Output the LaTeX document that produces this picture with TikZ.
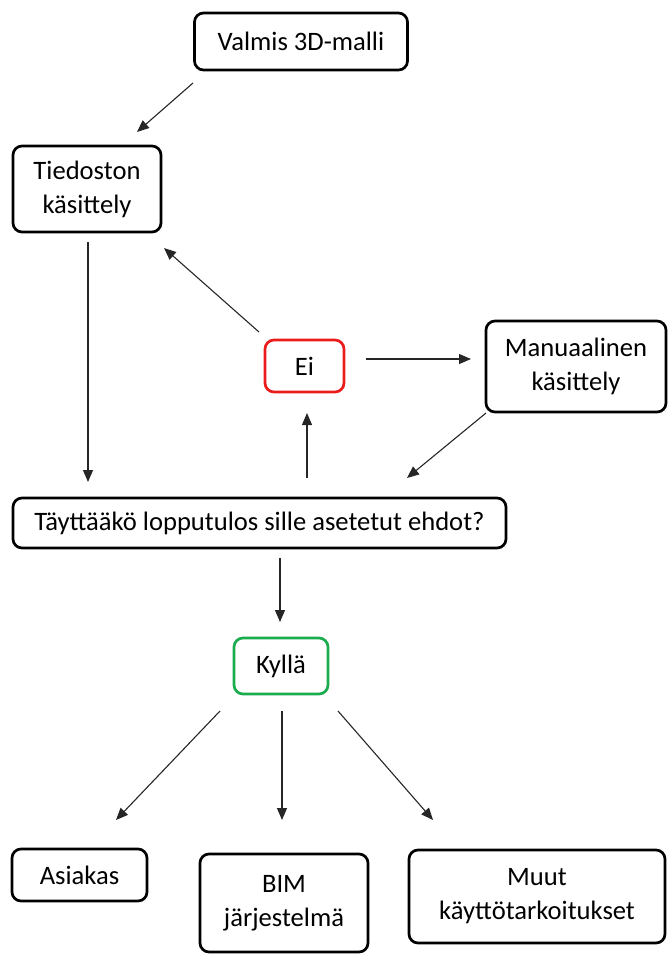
\documentclass[tikz,border=0pt]{standalone}
\usepackage{fontspec}
\setmainfont{Carlito}
\usetikzlibrary{arrows.meta}
\definecolor{eired}{RGB}{235,28,28}
\definecolor{kgreen}{RGB}{28,172,80}
\begin{document}
\begin{tikzpicture}[x=1pt,y=-1pt,
  box/.style={draw=black, line width=2.7pt, rounded corners=9pt, inner sep=0pt, outer sep=0pt, align=center, font=\fontsize{26.6}{34}\selectfont},
  arr/.style={draw=black!85, line width=1.1pt, -{Triangle[length=12pt,width=10pt]}}]
\useasboundingbox (0,0) rectangle (668,954);
% boxes
\node[box, minimum width=213pt, minimum height=57pt] (valmis) at (301,41.5) {Valmis 3D-malli};
\node[box, minimum width=148pt, minimum height=86pt] (tied) at (87,189) {Tiedoston\\käsittely};
\node[box, draw=eired, minimum width=79pt, minimum height=52pt] (ei) at (304.5,366) {Ei};
\node[box, minimum width=180pt, minimum height=91pt] (man) at (576,366.5) {Manuaalinen\\käsittely};
\node[box, minimum width=493pt, minimum height=50pt] (tayt) at (259.5,523) {Täyttääkö lopputulos sille asetetut ehdot?};
\node[box, draw=kgreen, minimum width=94pt, minimum height=56pt] (kylla) at (281,666) {Kyllä};
\node[box, minimum width=135pt, minimum height=52pt] (asiakas) at (79.5,875) {Asiakas};
\node[box, minimum width=168pt, minimum height=98pt] (bim) at (284,903) {BIM\\järjestelmä};
\node[box, minimum width=256pt, minimum height=93pt] (muut) at (537,896.5) {Muut\\käyttötarkoitukset};
% connector end points
\coordinate (a1s) at (193,83);  \coordinate (a1e) at (137,132);
\coordinate (a2s) at (259,332); \coordinate (a2e) at (164,248);
\coordinate (a3s) at (88,242);  \coordinate (a3e) at (88,482);
\coordinate (a4s) at (366,359); \coordinate (a4e) at (471,359);
\coordinate (a5s) at (486,413); \coordinate (a5e) at (407,478);
\coordinate (a6s) at (307,478); \coordinate (a6e) at (307,413);
\coordinate (a7s) at (280,558); \coordinate (a7e) at (280,622);
\coordinate (a8s) at (220,711); \coordinate (a8e) at (116,820);
\coordinate (a9s) at (282,711); \coordinate (a9e) at (282,820);
\coordinate (a10s) at (338,711); \coordinate (a10e) at (433,820);
% connectors
\draw[arr] (a1s) -- (a1e);
\draw[arr] (a2s) -- (a2e);
\draw[arr] (a3s) -- (a3e);
\draw[arr] (a4s) -- (a4e);
\draw[arr] (a5s) -- (a5e);
\draw[arr] (a6s) -- (a6e);
\draw[arr] (a7s) -- (a7e);
\draw[arr] (a8s) -- (a8e);
\draw[arr] (a9s) -- (a9e);
\draw[arr] (a10s) -- (a10e);
\end{tikzpicture}
\end{document}
